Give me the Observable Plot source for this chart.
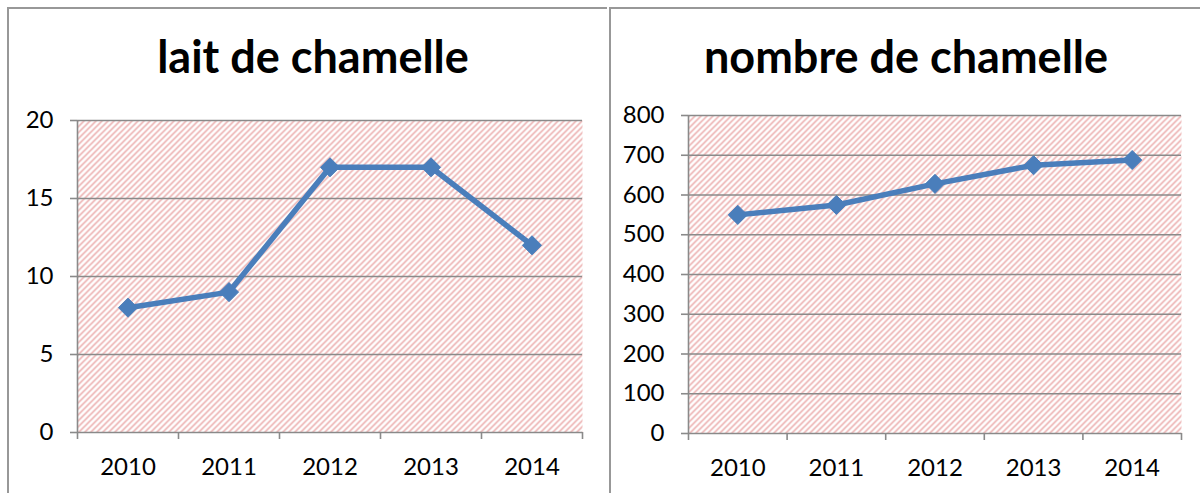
<!DOCTYPE html>
<html>
<head>
<meta charset="utf-8">
<script src="https://cdn.jsdelivr.net/npm/d3@7"></script>
<script src="https://cdn.jsdelivr.net/npm/@observablehq/plot@0.6"></script>
<style>
  html, body { margin: 0; padding: 0; background: #fff; }
  #wrap { position: relative; width: 1200px; height: 493px; overflow: hidden; font-family: Lato, "Open Sans", sans-serif; }
  .panel { position: absolute; top: 7px; border-top: 2px solid #989898; border-left: 2px solid #989898; height: 600px; box-sizing: border-box; }
  .title { position: absolute; font-weight: bold; font-size: 45px; color: #000; white-space: nowrap; transform: translateX(-50%); line-height: 1; }
  .chart { position: absolute; top: 0; }
</style>
</head>
<body>
<div id="wrap">
  <div class="panel" style="left:7px; width:600px;"></div>
  <div class="panel" style="left:609px; width:600px;"></div>
  <div class="title" id="t1" style="left:313px; top:34px;"></div>
  <div class="title" id="t2" style="left:906px; top:34px;"></div>
  <div class="chart" id="c1" style="left:0px;"></div>
  <div class="chart" id="c2" style="left:600px;"></div>
</div>
<script>
const years = [2010, 2011, 2012, 2013, 2014];
const laitValues = [8, 9, 17, 17, 12];
const nombreValues = [550, 575, 628, 675, 688];
const titleLait = "lait de chamelle";
const titleNombre = "nombre de chamelle";
const laitTicks = [0, 5, 10, 15, 20];
const nombreTicks = [0, 100, 200, 300, 400, 500, 600, 700, 800];

document.getElementById("t1").textContent = titleLait;
document.getElementById("t2").textContent = titleNombre;

const boundaries = [2009.5, 2010.5, 2011.5, 2012.5, 2013.5, 2014.5];

function makeChart(values, ticks, yMax, opts, id) {
  const data = years.map((y, i) => ({year: y, value: values[i]}));
  const pid = "hatch-" + id;
  const chart = Plot.plot({
    width: 600,
    height: 493,
    marginLeft: opts.ml,
    marginRight: 600 - opts.mr,
    marginTop: opts.mt,
    marginBottom: 493 - opts.mb,
    style: {fontFamily: "Lato, 'Open Sans', sans-serif", fontSize: "24px", color: "#000", background: "transparent", overflow: "visible"},
    x: {domain: [2009.5, 2014.5], axis: null},
    y: {domain: [0, yMax], axis: null},
    marks: [
      Plot.frame({fill: `url(#${pid})`, stroke: null}),
      Plot.ruleY(ticks, {stroke: "#8a8a8a", strokeWidth: 1.6}),
      Plot.ruleX([2009.5], {stroke: "#8a8a8a", strokeWidth: 1.6}),
      Plot.axisY(ticks, {tickSize: 7, tickPadding: 17, stroke: "#8a8a8a", strokeWidth: 1.6, strokeOpacity: 1, fill: "#000", label: null, tickFormat: d => String(d), fontSize: 24}),
      Plot.axisX(boundaries, {tickSize: 7, stroke: "#8a8a8a", strokeWidth: 1.6, strokeOpacity: 1, tickFormat: () => "", label: null}),
      Plot.axisX(years, {tickSize: 0, tickPadding: 25, fill: "#000", tickFormat: d => String(d), label: null, fontSize: 24}),
      Plot.line(data, {x: "year", y: "value", stroke: "#4a7ebb", strokeWidth: 5.5, strokeLinejoin: "round"}),
      Plot.dot(data, {x: "year", y: "value", symbol: "diamond2", r: 8.6, fill: "#4a7ebb", stroke: "#4a7ebb", strokeWidth: 1})
    ]
  });
  const svg = d3.select(chart);
  const defs = svg.insert("defs", ":first-child");
  const pat = defs.append("pattern").attr("id", pid).attr("patternUnits", "userSpaceOnUse").attr("width", 6).attr("height", 6);
  pat.append("rect").attr("width", 6).attr("height", 6).attr("fill", "#ffffff");
  pat.append("path").attr("d", "M-1.5,1.5 L1.5,-1.5 M0,6 L6,0 M4.5,7.5 L7.5,4.5").attr("stroke", "#eaa8a8").attr("stroke-width", 1.5);
  document.getElementById(id).appendChild(chart);
}

makeChart(laitValues, laitTicks, 20, {ml: 77, mr: 582, mt: 120, mb: 432}, "c1");
makeChart(nombreValues, nombreTicks, 800, {ml: 88, mr: 581, mt: 115, mb: 433}, "c2");
</script>
</body>
</html>
